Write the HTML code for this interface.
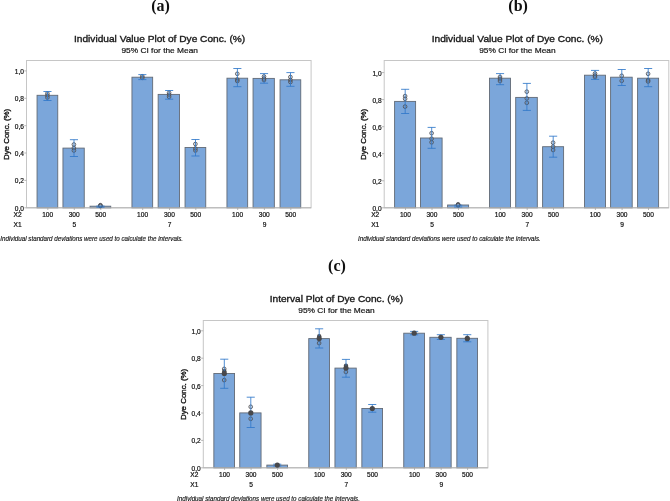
<!DOCTYPE html>
<html><head><meta charset="utf-8"><title>Charts</title>
<style>
html,body{margin:0;padding:0;background:#fff;overflow:hidden}
svg{display:block;will-change:transform}
text{font-family:"Liberation Sans",sans-serif;fill:#111}
.tk{font-size:6.6px;fill:#111;stroke:#111;stroke-width:0.2px}
.yl{font-size:7.9px;fill:#151515;stroke:#151515;stroke-width:0.36px}
.tt{font-size:9.4px;fill:#1a1a1a;stroke:#1a1a1a;stroke-width:0.36px}
.st{font-size:8.0px;fill:#151515;stroke:#151515;stroke-width:0.2px}
.fn{font-size:6.5px;font-style:italic;fill:#111;stroke:#111;stroke-width:0.14px}
.lab{font-family:"Liberation Serif",serif;font-weight:bold;font-size:16px;fill:#111}
</style></head><body>
<svg width="670" height="501" viewBox="0 0 670 501">
<rect width="670" height="501" fill="#fff"/>
<text x="160.6" y="10.8" class="lab" text-anchor="middle">(a)</text>
<text x="518.1" y="10.8" class="lab" text-anchor="middle">(b)</text>
<text x="337.0" y="271.0" class="lab" text-anchor="middle">(c)</text>
<g transform="translate(0,0)">
<rect x="26.5" y="60.5" width="284.6" height="147.3" fill="#fff" stroke="#c6c6c6" stroke-width="1"/>
<line x1="24.3" y1="207.8" x2="26.5" y2="207.8" stroke="#a8a8a8" stroke-width="0.8"/>
<text x="23.9" y="210.8" class="tk" text-anchor="end">0,0</text>
<line x1="24.3" y1="180.4" x2="26.5" y2="180.4" stroke="#a8a8a8" stroke-width="0.8"/>
<text x="23.9" y="183.4" class="tk" text-anchor="end">0,2</text>
<line x1="24.3" y1="153.0" x2="26.5" y2="153.0" stroke="#a8a8a8" stroke-width="0.8"/>
<text x="23.9" y="156.0" class="tk" text-anchor="end">0,4</text>
<line x1="24.3" y1="125.7" x2="26.5" y2="125.7" stroke="#a8a8a8" stroke-width="0.8"/>
<text x="23.9" y="128.7" class="tk" text-anchor="end">0,6</text>
<line x1="24.3" y1="98.3" x2="26.5" y2="98.3" stroke="#a8a8a8" stroke-width="0.8"/>
<text x="23.9" y="101.3" class="tk" text-anchor="end">0,8</text>
<line x1="24.3" y1="70.9" x2="26.5" y2="70.9" stroke="#a8a8a8" stroke-width="0.8"/>
<text x="23.9" y="73.9" class="tk" text-anchor="end">1,0</text>
<rect x="37.05" y="95.3" width="20.7" height="112.5" fill="#7ba6da" stroke="#626a76" stroke-width="0.9"/>
<rect x="62.95" y="148.1" width="21.3" height="59.7" fill="#7ba6da" stroke="#626a76" stroke-width="0.9"/>
<rect x="90.05" y="206.2" width="20.7" height="1.6" fill="#7ba6da" stroke="#626a76" stroke-width="0.9"/>
<rect x="131.95" y="77.2" width="20.7" height="130.6" fill="#7ba6da" stroke="#626a76" stroke-width="0.9"/>
<rect x="158.15" y="94.4" width="21.3" height="113.4" fill="#7ba6da" stroke="#626a76" stroke-width="0.9"/>
<rect x="185.05" y="147.5" width="20.7" height="60.3" fill="#7ba6da" stroke="#626a76" stroke-width="0.9"/>
<rect x="226.95" y="78.2" width="20.7" height="129.6" fill="#7ba6da" stroke="#626a76" stroke-width="0.9"/>
<rect x="253.05" y="78.4" width="21.3" height="129.4" fill="#7ba6da" stroke="#626a76" stroke-width="0.9"/>
<rect x="280.05" y="79.8" width="20.7" height="128.0" fill="#7ba6da" stroke="#626a76" stroke-width="0.9"/>
<line x1="26.5" y1="207.8" x2="311.1" y2="207.8" stroke="#b4b4b4" stroke-width="1"/>
<line x1="47.8" y1="207.8" x2="47.8" y2="210.0" stroke="#a8a8a8" stroke-width="0.8"/>
<circle cx="47.4" cy="93.5" r="1.85" fill="#9a9a9a" fill-opacity="0.22" stroke="#4e4f55" stroke-width="0.85"/>
<circle cx="47.4" cy="95.5" r="1.85" fill="#9a9a9a" fill-opacity="0.22" stroke="#4e4f55" stroke-width="0.85"/>
<circle cx="47.4" cy="97.5" r="1.85" fill="#9a9a9a" fill-opacity="0.22" stroke="#4e4f55" stroke-width="0.85"/>
<path d="M43.4 91.5H51.5M43.4 100.5H51.5M47.5 91.5V100.5" stroke="#3078ca" stroke-width="0.85" fill="none"/>
<line x1="74.30000000000001" y1="207.8" x2="74.30000000000001" y2="210.0" stroke="#a8a8a8" stroke-width="0.8"/>
<circle cx="73.9" cy="144.5" r="1.85" fill="#9a9a9a" fill-opacity="0.22" stroke="#4e4f55" stroke-width="0.85"/>
<circle cx="73.9" cy="148.0" r="1.85" fill="#9a9a9a" fill-opacity="0.22" stroke="#4e4f55" stroke-width="0.85"/>
<circle cx="73.9" cy="150.5" r="1.85" fill="#9a9a9a" fill-opacity="0.22" stroke="#4e4f55" stroke-width="0.85"/>
<path d="M69.9 139.7H78.0M69.9 156.5H78.0M74.0 139.7V156.5" stroke="#3078ca" stroke-width="0.85" fill="none"/>
<line x1="100.80000000000001" y1="207.8" x2="100.80000000000001" y2="210.0" stroke="#a8a8a8" stroke-width="0.8"/>
<circle cx="100.4" cy="205.2" r="1.85" fill="#9a9a9a" fill-opacity="0.22" stroke="#4e4f55" stroke-width="0.85"/>
<circle cx="100.4" cy="205.6" r="1.85" fill="#9a9a9a" fill-opacity="0.22" stroke="#4e4f55" stroke-width="0.85"/>
<circle cx="100.4" cy="206.0" r="1.85" fill="#9a9a9a" fill-opacity="0.22" stroke="#4e4f55" stroke-width="0.85"/>
<path d="M96.4 206.0H104.5M96.4 207.2H104.5M100.5 206.0V207.2" stroke="#3078ca" stroke-width="0.85" fill="none"/>
<line x1="142.70000000000002" y1="207.8" x2="142.70000000000002" y2="210.0" stroke="#a8a8a8" stroke-width="0.8"/>
<circle cx="142.3" cy="76.3" r="1.85" fill="#9a9a9a" fill-opacity="0.22" stroke="#4e4f55" stroke-width="0.85"/>
<circle cx="142.3" cy="77.8" r="1.85" fill="#9a9a9a" fill-opacity="0.22" stroke="#4e4f55" stroke-width="0.85"/>
<path d="M138.3 74.6H146.4M138.3 79.6H146.4M142.4 74.6V79.6" stroke="#3078ca" stroke-width="0.85" fill="none"/>
<line x1="169.5" y1="207.8" x2="169.5" y2="210.0" stroke="#a8a8a8" stroke-width="0.8"/>
<circle cx="169.1" cy="92.8" r="1.85" fill="#9a9a9a" fill-opacity="0.22" stroke="#4e4f55" stroke-width="0.85"/>
<circle cx="169.1" cy="94.8" r="1.85" fill="#9a9a9a" fill-opacity="0.22" stroke="#4e4f55" stroke-width="0.85"/>
<circle cx="169.1" cy="96.8" r="1.85" fill="#9a9a9a" fill-opacity="0.22" stroke="#4e4f55" stroke-width="0.85"/>
<path d="M165.1 90.5H173.2M165.1 99.2H173.2M169.2 90.5V99.2" stroke="#3078ca" stroke-width="0.85" fill="none"/>
<line x1="195.8" y1="207.8" x2="195.8" y2="210.0" stroke="#a8a8a8" stroke-width="0.8"/>
<circle cx="195.4" cy="144.0" r="1.85" fill="#9a9a9a" fill-opacity="0.22" stroke="#4e4f55" stroke-width="0.85"/>
<circle cx="195.4" cy="148.5" r="1.85" fill="#9a9a9a" fill-opacity="0.22" stroke="#4e4f55" stroke-width="0.85"/>
<circle cx="195.4" cy="150.5" r="1.85" fill="#9a9a9a" fill-opacity="0.22" stroke="#4e4f55" stroke-width="0.85"/>
<path d="M191.4 139.5H199.5M191.4 156.0H199.5M195.5 139.5V156.0" stroke="#3078ca" stroke-width="0.85" fill="none"/>
<line x1="237.70000000000002" y1="207.8" x2="237.70000000000002" y2="210.0" stroke="#a8a8a8" stroke-width="0.8"/>
<circle cx="237.3" cy="73.8" r="1.85" fill="#9a9a9a" fill-opacity="0.22" stroke="#4e4f55" stroke-width="0.85"/>
<circle cx="237.3" cy="79.5" r="1.85" fill="#9a9a9a" fill-opacity="0.22" stroke="#4e4f55" stroke-width="0.85"/>
<circle cx="237.3" cy="81.0" r="1.85" fill="#9a9a9a" fill-opacity="0.22" stroke="#4e4f55" stroke-width="0.85"/>
<path d="M233.3 68.5H241.4M233.3 86.7H241.4M237.4 68.5V86.7" stroke="#3078ca" stroke-width="0.85" fill="none"/>
<line x1="264.4" y1="207.8" x2="264.4" y2="210.0" stroke="#a8a8a8" stroke-width="0.8"/>
<circle cx="264.0" cy="76.5" r="1.85" fill="#9a9a9a" fill-opacity="0.22" stroke="#4e4f55" stroke-width="0.85"/>
<circle cx="264.0" cy="78.5" r="1.85" fill="#9a9a9a" fill-opacity="0.22" stroke="#4e4f55" stroke-width="0.85"/>
<circle cx="264.0" cy="80.0" r="1.85" fill="#9a9a9a" fill-opacity="0.22" stroke="#4e4f55" stroke-width="0.85"/>
<path d="M260.0 73.6H268.1M260.0 83.2H268.1M264.1 73.6V83.2" stroke="#3078ca" stroke-width="0.85" fill="none"/>
<line x1="290.79999999999995" y1="207.8" x2="290.79999999999995" y2="210.0" stroke="#a8a8a8" stroke-width="0.8"/>
<circle cx="290.4" cy="77.0" r="1.85" fill="#9a9a9a" fill-opacity="0.22" stroke="#4e4f55" stroke-width="0.85"/>
<circle cx="290.4" cy="80.0" r="1.85" fill="#9a9a9a" fill-opacity="0.22" stroke="#4e4f55" stroke-width="0.85"/>
<circle cx="290.4" cy="82.0" r="1.85" fill="#9a9a9a" fill-opacity="0.22" stroke="#4e4f55" stroke-width="0.85"/>
<path d="M286.4 72.6H294.5M286.4 86.3H294.5M290.5 72.6V86.3" stroke="#3078ca" stroke-width="0.85" fill="none"/>
<text x="47.7" y="217.0" class="tk" text-anchor="middle">100</text>
<text x="74.2" y="217.0" class="tk" text-anchor="middle">300</text>
<text x="100.7" y="217.0" class="tk" text-anchor="middle">500</text>
<text x="142.6" y="217.0" class="tk" text-anchor="middle">100</text>
<text x="169.4" y="217.0" class="tk" text-anchor="middle">300</text>
<text x="195.7" y="217.0" class="tk" text-anchor="middle">500</text>
<text x="237.6" y="217.0" class="tk" text-anchor="middle">100</text>
<text x="264.3" y="217.0" class="tk" text-anchor="middle">300</text>
<text x="290.7" y="217.0" class="tk" text-anchor="middle">500</text>
<text x="74.4" y="227.0" class="tk" text-anchor="middle">5</text>
<text x="169.6" y="227.0" class="tk" text-anchor="middle">7</text>
<text x="264.5" y="227.0" class="tk" text-anchor="middle">9</text>
<text x="21.6" y="217.0" class="tk" text-anchor="end">X2</text>
<text x="21.6" y="227.0" class="tk" text-anchor="end">X1</text>
<text transform="translate(8.7,134.4) rotate(-90)" class="yl" text-anchor="middle" textLength="51.3" lengthAdjust="spacingAndGlyphs">Dye Conc. (%)</text>
<text x="159.6" y="41.8" class="tt" text-anchor="middle" textLength="171.2" lengthAdjust="spacingAndGlyphs">Individual Value Plot of Dye Conc. (%)</text>
<text x="159.7" y="52.9" class="st" text-anchor="middle" textLength="76.5" lengthAdjust="spacingAndGlyphs">95% CI for the Mean</text>
<text x="0.3" y="240.6" class="fn" textLength="182.8" lengthAdjust="spacingAndGlyphs">Individual standard deviations were used to calculate the intervals.</text>
</g>
<g transform="translate(357.7,0)">
<rect x="26.5" y="60.5" width="284.6" height="147.3" fill="#fff" stroke="#c6c6c6" stroke-width="1"/>
<line x1="24.3" y1="207.8" x2="26.5" y2="207.8" stroke="#a8a8a8" stroke-width="0.8"/>
<text x="23.9" y="210.8" class="tk" text-anchor="end">0,0</text>
<line x1="24.3" y1="180.8" x2="26.5" y2="180.8" stroke="#a8a8a8" stroke-width="0.8"/>
<text x="23.9" y="183.8" class="tk" text-anchor="end">0,2</text>
<line x1="24.3" y1="153.7" x2="26.5" y2="153.7" stroke="#a8a8a8" stroke-width="0.8"/>
<text x="23.9" y="156.7" class="tk" text-anchor="end">0,4</text>
<line x1="24.3" y1="126.7" x2="26.5" y2="126.7" stroke="#a8a8a8" stroke-width="0.8"/>
<text x="23.9" y="129.7" class="tk" text-anchor="end">0,6</text>
<line x1="24.3" y1="99.6" x2="26.5" y2="99.6" stroke="#a8a8a8" stroke-width="0.8"/>
<text x="23.9" y="102.6" class="tk" text-anchor="end">0,8</text>
<line x1="24.3" y1="72.6" x2="26.5" y2="72.6" stroke="#a8a8a8" stroke-width="0.8"/>
<text x="23.9" y="75.6" class="tk" text-anchor="end">1,0</text>
<rect x="36.90" y="101.4" width="21.0" height="106.4" fill="#7ba6da" stroke="#626a76" stroke-width="0.9"/>
<rect x="62.80" y="138.0" width="21.6" height="69.8" fill="#7ba6da" stroke="#626a76" stroke-width="0.9"/>
<rect x="89.90" y="205.0" width="21.0" height="2.8" fill="#7ba6da" stroke="#626a76" stroke-width="0.9"/>
<rect x="131.80" y="78.2" width="21.0" height="129.6" fill="#7ba6da" stroke="#626a76" stroke-width="0.9"/>
<rect x="158.00" y="97.4" width="21.6" height="110.4" fill="#7ba6da" stroke="#626a76" stroke-width="0.9"/>
<rect x="184.90" y="146.7" width="21.0" height="61.1" fill="#7ba6da" stroke="#626a76" stroke-width="0.9"/>
<rect x="226.80" y="75.2" width="21.0" height="132.6" fill="#7ba6da" stroke="#626a76" stroke-width="0.9"/>
<rect x="252.90" y="77.2" width="21.6" height="130.6" fill="#7ba6da" stroke="#626a76" stroke-width="0.9"/>
<rect x="279.90" y="78.2" width="21.0" height="129.6" fill="#7ba6da" stroke="#626a76" stroke-width="0.9"/>
<line x1="26.5" y1="207.8" x2="311.1" y2="207.8" stroke="#b4b4b4" stroke-width="1"/>
<line x1="47.8" y1="207.8" x2="47.8" y2="210.0" stroke="#a8a8a8" stroke-width="0.8"/>
<circle cx="47.4" cy="96.1" r="1.85" fill="#9a9a9a" fill-opacity="0.22" stroke="#4e4f55" stroke-width="0.85"/>
<circle cx="47.4" cy="98.8" r="1.85" fill="#9a9a9a" fill-opacity="0.22" stroke="#4e4f55" stroke-width="0.85"/>
<circle cx="47.4" cy="106.6" r="1.85" fill="#9a9a9a" fill-opacity="0.22" stroke="#4e4f55" stroke-width="0.85"/>
<path d="M43.4 89.3H51.5M43.4 113.5H51.5M47.5 89.3V113.5" stroke="#3078ca" stroke-width="0.85" fill="none"/>
<line x1="74.30000000000001" y1="207.8" x2="74.30000000000001" y2="210.0" stroke="#a8a8a8" stroke-width="0.8"/>
<circle cx="73.9" cy="133.2" r="1.85" fill="#9a9a9a" fill-opacity="0.22" stroke="#4e4f55" stroke-width="0.85"/>
<circle cx="73.9" cy="138.7" r="1.85" fill="#9a9a9a" fill-opacity="0.22" stroke="#4e4f55" stroke-width="0.85"/>
<circle cx="73.9" cy="142.3" r="1.85" fill="#9a9a9a" fill-opacity="0.22" stroke="#4e4f55" stroke-width="0.85"/>
<path d="M69.9 127.4H78.0M69.9 148.3H78.0M74.0 127.4V148.3" stroke="#3078ca" stroke-width="0.85" fill="none"/>
<line x1="100.80000000000001" y1="207.8" x2="100.80000000000001" y2="210.0" stroke="#a8a8a8" stroke-width="0.8"/>
<circle cx="100.4" cy="204.3" r="1.85" fill="#9a9a9a" fill-opacity="0.22" stroke="#4e4f55" stroke-width="0.85"/>
<circle cx="100.4" cy="204.8" r="1.85" fill="#9a9a9a" fill-opacity="0.22" stroke="#4e4f55" stroke-width="0.85"/>
<circle cx="100.4" cy="205.3" r="1.85" fill="#9a9a9a" fill-opacity="0.22" stroke="#4e4f55" stroke-width="0.85"/>
<path d="M96.4 205.2H104.5M96.4 207.0H104.5M100.5 205.2V207.0" stroke="#3078ca" stroke-width="0.85" fill="none"/>
<line x1="142.70000000000002" y1="207.8" x2="142.70000000000002" y2="210.0" stroke="#a8a8a8" stroke-width="0.8"/>
<circle cx="142.3" cy="77.0" r="1.85" fill="#9a9a9a" fill-opacity="0.22" stroke="#4e4f55" stroke-width="0.85"/>
<circle cx="142.3" cy="79.0" r="1.85" fill="#9a9a9a" fill-opacity="0.22" stroke="#4e4f55" stroke-width="0.85"/>
<circle cx="142.3" cy="81.0" r="1.85" fill="#9a9a9a" fill-opacity="0.22" stroke="#4e4f55" stroke-width="0.85"/>
<path d="M138.3 73.6H146.4M138.3 84.7H146.4M142.4 73.6V84.7" stroke="#3078ca" stroke-width="0.85" fill="none"/>
<line x1="169.5" y1="207.8" x2="169.5" y2="210.0" stroke="#a8a8a8" stroke-width="0.8"/>
<circle cx="169.1" cy="91.7" r="1.85" fill="#9a9a9a" fill-opacity="0.22" stroke="#4e4f55" stroke-width="0.85"/>
<circle cx="169.1" cy="98.4" r="1.85" fill="#9a9a9a" fill-opacity="0.22" stroke="#4e4f55" stroke-width="0.85"/>
<circle cx="169.1" cy="102.8" r="1.85" fill="#9a9a9a" fill-opacity="0.22" stroke="#4e4f55" stroke-width="0.85"/>
<path d="M165.1 83.4H173.2M165.1 110.4H173.2M169.2 83.4V110.4" stroke="#3078ca" stroke-width="0.85" fill="none"/>
<line x1="195.8" y1="207.8" x2="195.8" y2="210.0" stroke="#a8a8a8" stroke-width="0.8"/>
<circle cx="195.4" cy="142.7" r="1.85" fill="#9a9a9a" fill-opacity="0.22" stroke="#4e4f55" stroke-width="0.85"/>
<circle cx="195.4" cy="146.7" r="1.85" fill="#9a9a9a" fill-opacity="0.22" stroke="#4e4f55" stroke-width="0.85"/>
<circle cx="195.4" cy="150.0" r="1.85" fill="#9a9a9a" fill-opacity="0.22" stroke="#4e4f55" stroke-width="0.85"/>
<path d="M191.4 136.2H199.5M191.4 157.2H199.5M195.5 136.2V157.2" stroke="#3078ca" stroke-width="0.85" fill="none"/>
<line x1="237.70000000000002" y1="207.8" x2="237.70000000000002" y2="210.0" stroke="#a8a8a8" stroke-width="0.8"/>
<circle cx="237.3" cy="73.5" r="1.85" fill="#9a9a9a" fill-opacity="0.22" stroke="#4e4f55" stroke-width="0.85"/>
<circle cx="237.3" cy="75.5" r="1.85" fill="#9a9a9a" fill-opacity="0.22" stroke="#4e4f55" stroke-width="0.85"/>
<circle cx="237.3" cy="77.0" r="1.85" fill="#9a9a9a" fill-opacity="0.22" stroke="#4e4f55" stroke-width="0.85"/>
<path d="M233.3 70.4H241.4M233.3 79.4H241.4M237.4 70.4V79.4" stroke="#3078ca" stroke-width="0.85" fill="none"/>
<line x1="264.4" y1="207.8" x2="264.4" y2="210.0" stroke="#a8a8a8" stroke-width="0.8"/>
<circle cx="264.0" cy="75.8" r="1.85" fill="#9a9a9a" fill-opacity="0.22" stroke="#4e4f55" stroke-width="0.85"/>
<circle cx="264.0" cy="80.8" r="1.85" fill="#9a9a9a" fill-opacity="0.22" stroke="#4e4f55" stroke-width="0.85"/>
<path d="M260.0 69.5H268.1M260.0 85.5H268.1M264.1 69.5V85.5" stroke="#3078ca" stroke-width="0.85" fill="none"/>
<line x1="290.79999999999995" y1="207.8" x2="290.79999999999995" y2="210.0" stroke="#a8a8a8" stroke-width="0.8"/>
<circle cx="290.4" cy="73.8" r="1.85" fill="#9a9a9a" fill-opacity="0.22" stroke="#4e4f55" stroke-width="0.85"/>
<circle cx="290.4" cy="80.2" r="1.85" fill="#9a9a9a" fill-opacity="0.22" stroke="#4e4f55" stroke-width="0.85"/>
<circle cx="290.4" cy="81.5" r="1.85" fill="#9a9a9a" fill-opacity="0.22" stroke="#4e4f55" stroke-width="0.85"/>
<path d="M286.4 68.5H294.5M286.4 86.7H294.5M290.5 68.5V86.7" stroke="#3078ca" stroke-width="0.85" fill="none"/>
<text x="47.7" y="217.0" class="tk" text-anchor="middle">100</text>
<text x="74.2" y="217.0" class="tk" text-anchor="middle">300</text>
<text x="100.7" y="217.0" class="tk" text-anchor="middle">500</text>
<text x="142.6" y="217.0" class="tk" text-anchor="middle">100</text>
<text x="169.4" y="217.0" class="tk" text-anchor="middle">300</text>
<text x="195.7" y="217.0" class="tk" text-anchor="middle">500</text>
<text x="237.6" y="217.0" class="tk" text-anchor="middle">100</text>
<text x="264.3" y="217.0" class="tk" text-anchor="middle">300</text>
<text x="290.7" y="217.0" class="tk" text-anchor="middle">500</text>
<text x="74.4" y="227.0" class="tk" text-anchor="middle">5</text>
<text x="169.6" y="227.0" class="tk" text-anchor="middle">7</text>
<text x="264.5" y="227.0" class="tk" text-anchor="middle">9</text>
<text x="21.6" y="217.0" class="tk" text-anchor="end">X2</text>
<text x="21.6" y="227.0" class="tk" text-anchor="end">X1</text>
<text transform="translate(8.7,134.4) rotate(-90)" class="yl" text-anchor="middle" textLength="51.3" lengthAdjust="spacingAndGlyphs">Dye Conc. (%)</text>
<text x="159.6" y="41.8" class="tt" text-anchor="middle" textLength="171.2" lengthAdjust="spacingAndGlyphs">Individual Value Plot of Dye Conc. (%)</text>
<text x="159.7" y="52.9" class="st" text-anchor="middle" textLength="76.5" lengthAdjust="spacingAndGlyphs">95% CI for the Mean</text>
<text x="0.3" y="240.6" class="fn" textLength="182.8" lengthAdjust="spacingAndGlyphs">Individual standard deviations were used to calculate the intervals.</text>
</g>
<g transform="translate(176.8,260)">
<rect x="26.5" y="60.5" width="284.6" height="147.3" fill="#fff" stroke="#c6c6c6" stroke-width="1"/>
<line x1="24.3" y1="207.8" x2="26.5" y2="207.8" stroke="#a8a8a8" stroke-width="0.8"/>
<text x="23.9" y="210.8" class="tk" text-anchor="end">0,0</text>
<line x1="24.3" y1="180.4" x2="26.5" y2="180.4" stroke="#a8a8a8" stroke-width="0.8"/>
<text x="23.9" y="183.4" class="tk" text-anchor="end">0,2</text>
<line x1="24.3" y1="153.0" x2="26.5" y2="153.0" stroke="#a8a8a8" stroke-width="0.8"/>
<text x="23.9" y="156.0" class="tk" text-anchor="end">0,4</text>
<line x1="24.3" y1="125.6" x2="26.5" y2="125.6" stroke="#a8a8a8" stroke-width="0.8"/>
<text x="23.9" y="128.6" class="tk" text-anchor="end">0,6</text>
<line x1="24.3" y1="98.2" x2="26.5" y2="98.2" stroke="#a8a8a8" stroke-width="0.8"/>
<text x="23.9" y="101.2" class="tk" text-anchor="end">0,8</text>
<line x1="24.3" y1="70.8" x2="26.5" y2="70.8" stroke="#a8a8a8" stroke-width="0.8"/>
<text x="23.9" y="73.8" class="tk" text-anchor="end">1,0</text>
<rect x="37.05" y="113.5" width="20.7" height="94.3" fill="#7ba6da" stroke="#626a76" stroke-width="0.9"/>
<rect x="62.95" y="152.9" width="21.3" height="54.9" fill="#7ba6da" stroke="#626a76" stroke-width="0.9"/>
<rect x="90.05" y="205.1" width="20.7" height="2.7" fill="#7ba6da" stroke="#626a76" stroke-width="0.9"/>
<rect x="131.95" y="78.6" width="20.7" height="129.2" fill="#7ba6da" stroke="#626a76" stroke-width="0.9"/>
<rect x="158.15" y="108.1" width="21.3" height="99.7" fill="#7ba6da" stroke="#626a76" stroke-width="0.9"/>
<rect x="185.05" y="148.5" width="20.7" height="59.3" fill="#7ba6da" stroke="#626a76" stroke-width="0.9"/>
<rect x="226.95" y="73.2" width="20.7" height="134.6" fill="#7ba6da" stroke="#626a76" stroke-width="0.9"/>
<rect x="253.05" y="77.3" width="21.3" height="130.5" fill="#7ba6da" stroke="#626a76" stroke-width="0.9"/>
<rect x="280.05" y="78.3" width="20.7" height="129.5" fill="#7ba6da" stroke="#626a76" stroke-width="0.9"/>
<line x1="26.5" y1="207.8" x2="311.1" y2="207.8" stroke="#b4b4b4" stroke-width="1"/>
<line x1="47.8" y1="207.8" x2="47.8" y2="210.0" stroke="#a8a8a8" stroke-width="0.8"/>
<circle cx="47.4" cy="108.9" r="1.85" fill="#9a9a9a" fill-opacity="0.22" stroke="#4e4f55" stroke-width="0.85"/>
<circle cx="47.4" cy="120.1" r="1.85" fill="#9a9a9a" fill-opacity="0.22" stroke="#4e4f55" stroke-width="0.85"/>
<circle cx="47.5" cy="111.2" r="2.2" fill="#4c4c50"/>
<path d="M43.4 99.2H51.5M43.4 128.3H51.5M47.5 99.2V128.3" stroke="#3078ca" stroke-width="0.85" fill="none"/>
<circle cx="47.5" cy="113.5" r="2.6" fill="#48484b"/>
<line x1="74.30000000000001" y1="207.8" x2="74.30000000000001" y2="210.0" stroke="#a8a8a8" stroke-width="0.8"/>
<circle cx="73.9" cy="146.8" r="1.85" fill="#9a9a9a" fill-opacity="0.22" stroke="#4e4f55" stroke-width="0.85"/>
<circle cx="73.9" cy="158.8" r="1.85" fill="#9a9a9a" fill-opacity="0.22" stroke="#4e4f55" stroke-width="0.85"/>
<path d="M69.9 137.2H78.0M69.9 167.5H78.0M74.0 137.2V167.5" stroke="#3078ca" stroke-width="0.85" fill="none"/>
<circle cx="74.0" cy="152.9" r="2.6" fill="#48484b"/>
<line x1="100.80000000000001" y1="207.8" x2="100.80000000000001" y2="210.0" stroke="#a8a8a8" stroke-width="0.8"/>
<path d="M96.4 204.2H104.5M96.4 206.0H104.5M100.5 204.2V206.0" stroke="#3078ca" stroke-width="0.85" fill="none"/>
<circle cx="100.5" cy="205.1" r="2.6" fill="#48484b"/>
<line x1="142.70000000000002" y1="207.8" x2="142.70000000000002" y2="210.0" stroke="#a8a8a8" stroke-width="0.8"/>
<circle cx="142.3" cy="83.1" r="1.85" fill="#9a9a9a" fill-opacity="0.22" stroke="#4e4f55" stroke-width="0.85"/>
<circle cx="142.4" cy="76.2" r="2.2" fill="#4c4c50"/>
<path d="M138.3 68.8H146.4M138.3 88.0H146.4M142.4 68.8V88.0" stroke="#3078ca" stroke-width="0.85" fill="none"/>
<circle cx="142.4" cy="78.6" r="2.6" fill="#48484b"/>
<line x1="169.5" y1="207.8" x2="169.5" y2="210.0" stroke="#a8a8a8" stroke-width="0.8"/>
<circle cx="169.1" cy="111.9" r="1.85" fill="#9a9a9a" fill-opacity="0.22" stroke="#4e4f55" stroke-width="0.85"/>
<circle cx="169.2" cy="105.8" r="2.2" fill="#4c4c50"/>
<path d="M165.1 99.4H173.2M165.1 117.2H173.2M169.2 99.4V117.2" stroke="#3078ca" stroke-width="0.85" fill="none"/>
<circle cx="169.2" cy="108.1" r="2.6" fill="#48484b"/>
<line x1="195.8" y1="207.8" x2="195.8" y2="210.0" stroke="#a8a8a8" stroke-width="0.8"/>
<path d="M191.4 144.5H199.5M191.4 152.2H199.5M195.5 144.5V152.2" stroke="#3078ca" stroke-width="0.85" fill="none"/>
<circle cx="195.5" cy="148.5" r="2.6" fill="#48484b"/>
<line x1="237.70000000000002" y1="207.8" x2="237.70000000000002" y2="210.0" stroke="#a8a8a8" stroke-width="0.8"/>
<path d="M233.3 71.4H241.4M233.3 74.8H241.4M237.4 71.4V74.8" stroke="#3078ca" stroke-width="0.85" fill="none"/>
<circle cx="237.4" cy="73.2" r="2.6" fill="#48484b"/>
<line x1="264.4" y1="207.8" x2="264.4" y2="210.0" stroke="#a8a8a8" stroke-width="0.8"/>
<path d="M260.0 74.7H268.1M260.0 79.5H268.1M264.1 74.7V79.5" stroke="#3078ca" stroke-width="0.85" fill="none"/>
<circle cx="264.1" cy="77.3" r="2.6" fill="#48484b"/>
<line x1="290.79999999999995" y1="207.8" x2="290.79999999999995" y2="210.0" stroke="#a8a8a8" stroke-width="0.8"/>
<circle cx="290.5" cy="79.6" r="2.2" fill="#4c4c50"/>
<path d="M286.4 74.7H294.5M286.4 81.8H294.5M290.5 74.7V81.8" stroke="#3078ca" stroke-width="0.85" fill="none"/>
<circle cx="290.5" cy="78.3" r="2.6" fill="#48484b"/>
<text x="47.7" y="217.0" class="tk" text-anchor="middle">100</text>
<text x="74.2" y="217.0" class="tk" text-anchor="middle">300</text>
<text x="100.7" y="217.0" class="tk" text-anchor="middle">500</text>
<text x="142.6" y="217.0" class="tk" text-anchor="middle">100</text>
<text x="169.4" y="217.0" class="tk" text-anchor="middle">300</text>
<text x="195.7" y="217.0" class="tk" text-anchor="middle">500</text>
<text x="237.6" y="217.0" class="tk" text-anchor="middle">100</text>
<text x="264.3" y="217.0" class="tk" text-anchor="middle">300</text>
<text x="290.7" y="217.0" class="tk" text-anchor="middle">500</text>
<text x="74.4" y="227.0" class="tk" text-anchor="middle">5</text>
<text x="169.6" y="227.0" class="tk" text-anchor="middle">7</text>
<text x="264.5" y="227.0" class="tk" text-anchor="middle">9</text>
<text x="21.6" y="217.0" class="tk" text-anchor="end">X2</text>
<text x="21.6" y="227.0" class="tk" text-anchor="end">X1</text>
<text transform="translate(8.7,134.4) rotate(-90)" class="yl" text-anchor="middle" textLength="51.3" lengthAdjust="spacingAndGlyphs">Dye Conc. (%)</text>
<text x="159.6" y="41.8" class="tt" text-anchor="middle" textLength="133.3" lengthAdjust="spacingAndGlyphs">Interval Plot of Dye Conc. (%)</text>
<text x="159.7" y="52.9" class="st" text-anchor="middle" textLength="76.5" lengthAdjust="spacingAndGlyphs">95% CI for the Mean</text>
<text x="0.3" y="240.6" class="fn" textLength="182.8" lengthAdjust="spacingAndGlyphs">Individual standard deviations were used to calculate the intervals.</text>
</g>
</svg>
</body></html>
